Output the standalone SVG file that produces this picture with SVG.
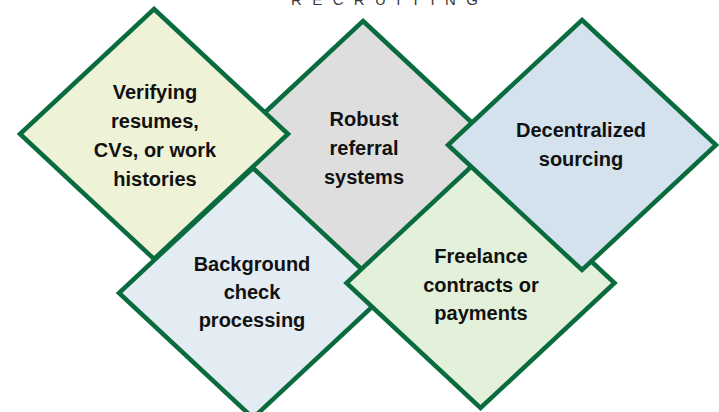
<svg xmlns="http://www.w3.org/2000/svg" width="719" height="412" viewBox="0 0 719 412">
  <style>
    .shape { stroke: #0a6b3f; stroke-width: 4.5; stroke-linejoin: miter; }
    .label { font-family: "Liberation Sans", Arial, sans-serif; font-weight: bold; font-size: 20px; fill: #111111; text-anchor: middle; }
    .title { font-family: "Liberation Sans", Arial, sans-serif; font-size: 15px; fill: #3a3a3a; letter-spacing: 10.4px; }
  </style>
  <rect width="719" height="412" fill="#ffffff"/>

  <text class="title" x="291" y="5">RECRUITING</text>

  <g id="connectors"/>

  <g id="node-referral">
    <polygon class="shape" fill="#dedede" points="363,21 497,146 363,271 229,146"/>
    <text class="label" x="364" y="126">Robust</text>
    <text class="label" x="364" y="155">referral</text>
    <text class="label" x="364" y="184">systems</text>
  </g>

  <g id="node-verifying">
    <polygon class="shape" fill="#eef2d6" points="154,9 288,134 154,259 20,134"/>
    <text class="label" x="155" y="99">Verifying</text>
    <text class="label" x="155" y="128">resumes,</text>
    <text class="label" x="155" y="157">CVs, or work</text>
    <text class="label" x="155" y="186">histories</text>
  </g>

  <g id="node-background">
    <polygon class="shape" fill="#e3ebf3" points="253,168 387,293 253,418 119,293"/>
    <text class="label" x="252" y="271">Background</text>
    <text class="label" x="252" y="299">check</text>
    <text class="label" x="252" y="327">processing</text>
  </g>

  <g id="node-freelance">
    <polygon class="shape" fill="#e4f1da" points="480.5,158 614.5,283 480.5,408 346.5,283"/>
    <text class="label" x="481" y="263">Freelance</text>
    <text class="label" x="481" y="292">contracts or</text>
    <text class="label" x="481" y="320">payments</text>
  </g>

  <g id="node-sourcing">
    <polygon class="shape" fill="#d3e2ec" points="582,20 716,145 582,270 448,145"/>
    <text class="label" x="581" y="137">Decentralized</text>
    <text class="label" x="581" y="166">sourcing</text>
  </g>
</svg>
